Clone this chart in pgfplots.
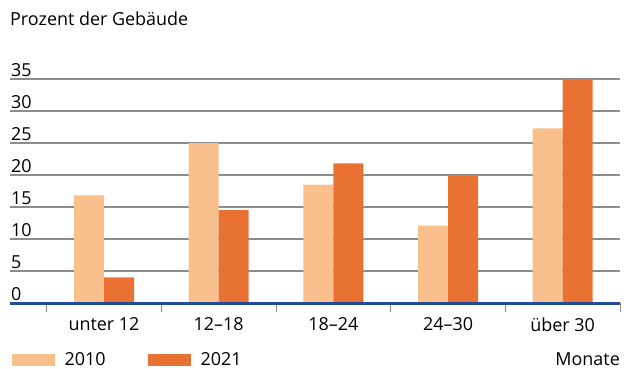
\documentclass[border=0pt]{standalone}
\usepackage{fontspec}
\setmainfont{Open Sans}
\usepackage{pgfplots}
\pgfplotsset{compat=1.18}
\definecolor{light}{RGB}{249,192,142}
\definecolor{dark}{RGB}{233,114,51}
\definecolor{axblue}{RGB}{35,75,155}
\definecolor{gridgray}{RGB}{140,140,140}
\begin{document}
\begin{tikzpicture}[font=\fontsize{18}{21}\selectfont]
\begin{axis}[
  at={(0,0)}, anchor=south west,
  scale only axis, width=610bp, height=224bp,
  xmin=-0.82, xmax=4.5, ymin=0, ymax=35,
  ybar=0pt, bar width=30bp,
  clip=false,
  /pgf/number format/assume math mode=true,
  xtick={0,1,2,3,4},
  xticklabels={unter 12, 12–18, 18–24, 24–30, über 30},
  minor xtick={-0.5,0.5,1.5,2.5,3.5,4.5},
  ytick={0,5,10,15,20,25,30,35},
  major tick length=0pt, minor tick length=9bp, tick align=outside,
  axis x line*=bottom, axis y line*=left,
  x axis line style={draw=none}, y axis line style={draw=none},
  minor x tick style={gridgray, line width=0.8bp},
  ytick style={draw=none},
  ymajorgrids, grid style={gridgray, line width=1.3bp},
  yticklabel style={anchor=south west, inner sep=1bp, xshift=0bp, yshift=1bp},
  xticklabel style={anchor=north, yshift=-11bp},
  legend style={at={(rel axis cs:0,0)}, anchor=north west, draw=none, fill=none,
    inner sep=0pt, outer sep=0pt, xshift=1.5bp, yshift=-47bp, legend columns=-1,
    /tikz/every even column/.append style={column sep=40bp},
    /tikz/every odd column/.append style={column sep=8bp},
    nodes={inner sep=2bp, anchor=west}},
]
\addplot[fill=light, draw=none,
  legend image code/.code={\fill[light] (0bp,-6.5bp) rectangle (43bp,5.5bp);}]
  coordinates {(0,16.8) (1,25) (2,18.5) (3,12.1) (4,27.3)};
\addplot[fill=dark, draw=none,
  legend image code/.code={\fill[dark] (0bp,-6.5bp) rectangle (43bp,5.5bp);}]
  coordinates {(0,4) (1,14.5) (2,21.8) (3,20) (4,35)};
\legend{2010, 2021}
\addplot[sharp plot, axblue, line width=3bp, forget plot, mark=none]
  coordinates {(-0.82,0) (4.5,0)};
\end{axis}
\node[anchor=base west, inner sep=0pt] at (0bp,277bp) {Prozent der Gebäude};
\node[anchor=base east, inner sep=0pt] at (610bp,-62bp) {Monate};
\pgfresetboundingbox
\useasboundingbox (-10bp,-66bp) rectangle (617bp,303bp);
\end{tikzpicture}
\end{document}
